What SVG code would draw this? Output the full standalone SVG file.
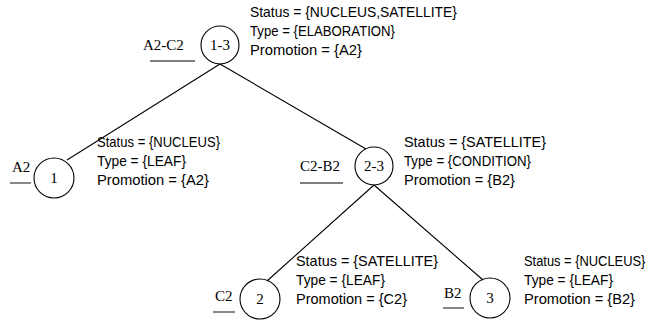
<svg xmlns="http://www.w3.org/2000/svg" width="649" height="323" viewBox="0 0 649 323">
<style>
.c{fill:none;stroke:#000;stroke-width:1.1}
.l{stroke:#000;stroke-width:1.1;fill:none}
.u{stroke:#555;stroke-width:1.4}
.n{font-family:"Liberation Serif",serif;font-size:15px;fill:#000}
.id{font-family:"Liberation Serif",serif;font-size:15px;fill:#000;text-anchor:middle}
.a{font-family:"Liberation Sans",Arial,sans-serif;font-size:15px;fill:#000}
</style>
<rect width="649" height="323" fill="#fff"/>
<g id="connectors">
<line class="l" x1="220" y1="64" x2="67" y2="160"/>
<line class="l" x1="220" y1="64" x2="366" y2="149"/>
<line class="l" x1="374" y1="185" x2="267" y2="281"/>
<line class="l" x1="374" y1="185" x2="483" y2="280"/>
</g>
<g id="node-1-3">
<circle class="c" cx="220" cy="45" r="19"/>
<text class="id" x="220" y="50">1-3</text>
<text class="n" x="143" y="50">A2-C2</text>
<line class="u" x1="150" y1="61" x2="195" y2="61"/>
<text class="a" x="250" y="17" textLength="207" lengthAdjust="spacingAndGlyphs">Status = {NUCLEUS,SATELLITE}</text>
<text class="a" x="250" y="36" textLength="145" lengthAdjust="spacingAndGlyphs">Type = {ELABORATION}</text>
<text class="a" x="250" y="55" textLength="112" lengthAdjust="spacingAndGlyphs">Promotion = {A2}</text>
</g>
<g id="node-1">
<circle class="c" cx="54" cy="178" r="20"/>
<text class="id" x="54" y="183">1</text>
<text class="n" x="12" y="172">A2</text>
<line class="u" x1="10" y1="183" x2="31" y2="183"/>
<text class="a" x="97" y="147" textLength="123" lengthAdjust="spacingAndGlyphs">Status = {NUCLEUS}</text>
<text class="a" x="97" y="166" textLength="89" lengthAdjust="spacingAndGlyphs">Type = {LEAF}</text>
<text class="a" x="97" y="185" textLength="112" lengthAdjust="spacingAndGlyphs">Promotion = {A2}</text>
</g>
<g id="node-2-3">
<circle class="c" cx="374" cy="166" r="19"/>
<text class="id" x="374" y="171">2-3</text>
<text class="n" x="300" y="171">C2-B2</text>
<line class="u" x1="300" y1="183" x2="343" y2="183"/>
<text class="a" x="404" y="147" textLength="142" lengthAdjust="spacingAndGlyphs">Status = {SATELLITE}</text>
<text class="a" x="404" y="166" textLength="127" lengthAdjust="spacingAndGlyphs">Type = {CONDITION}</text>
<text class="a" x="404" y="185" textLength="111" lengthAdjust="spacingAndGlyphs">Promotion = {B2}</text>
</g>
<g id="node-2">
<circle class="c" cx="260" cy="299" r="20"/>
<text class="id" x="260" y="304">2</text>
<text class="n" x="215" y="301">C2</text>
<line class="u" x1="213" y1="312" x2="235" y2="312"/>
<text class="a" x="296" y="266" textLength="142" lengthAdjust="spacingAndGlyphs">Status = {SATELLITE}</text>
<text class="a" x="296" y="285" textLength="89" lengthAdjust="spacingAndGlyphs">Type = {LEAF}</text>
<text class="a" x="296" y="304" textLength="111" lengthAdjust="spacingAndGlyphs">Promotion = {C2}</text>
</g>
<g id="node-3">
<circle class="c" cx="490" cy="298" r="20"/>
<text class="id" x="490" y="303">3</text>
<text class="n" x="444" y="298">B2</text>
<line class="u" x1="443" y1="308" x2="464" y2="308"/>
<text class="a" transform="translate(524,266) scale(0.86,1)">Status = {NUCLEUS}</text>
<text class="a" x="524" y="285" textLength="89" lengthAdjust="spacingAndGlyphs">Type = {LEAF}</text>
<text class="a" x="524" y="304" textLength="111" lengthAdjust="spacingAndGlyphs">Promotion = {B2}</text>
</g>
</svg>
